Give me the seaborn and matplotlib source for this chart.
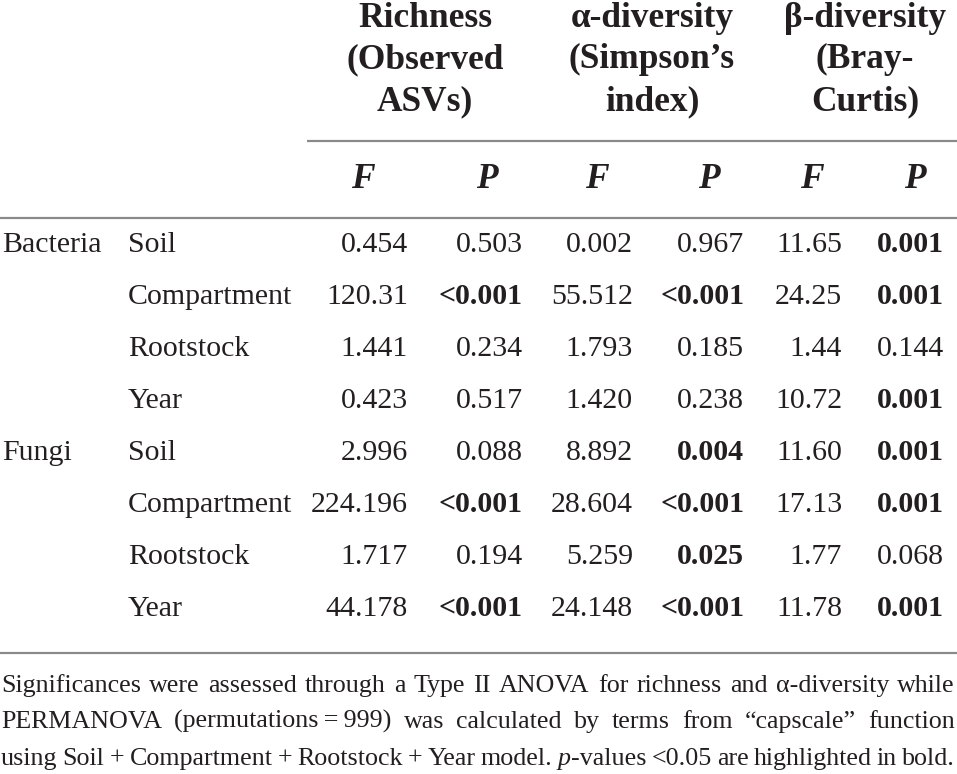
import matplotlib
matplotlib.use("Agg")
import matplotlib.pyplot as plt
import seaborn as sns

# table content
groups = ["Bacteria", "", "", "", "Fungi", "", "", ""]
terms = ["Soil", "Compartment", "Rootstock", "Year",
         "Soil", "Compartment", "Rootstock", "Year"]
richness_f = ["0.454", "120.31", "1.441", "0.423", "2.996", "224.196", "1.717", "44.178"]
richness_p = ["0.503", "<0.001", "0.234", "0.517", "0.088", "<0.001", "0.194", "<0.001"]
alpha_f = ["0.002", "55.512", "1.793", "1.420", "8.892", "28.604", "5.259", "24.148"]
alpha_p = ["0.967", "<0.001", "0.185", "0.238", "0.004", "<0.001", "0.025", "<0.001"]
beta_f = ["11.65", "24.25", "1.44", "10.72", "11.60", "17.13", "1.77", "11.78"]
beta_p = ["0.001", "0.001", "0.144", "0.001", "0.001", "0.001", "0.068", "0.001"]

header_groups = [["Richness", "(Observed", "ASVs)"],
                 ["α-diversity", "(Simpson’s", "index)"],
                 ["β-diversity", "(Bray-", "Curtis)"]]
stat_labels = ["F", "P"]

footnote_lines = [
    "Significances were assessed through a Type II ANOVA for richness and α-diversity while",
    "PERMANOVA (permutations\u2009=\u2009999) was calculated by terms from “capscale” function",
    "using Soil + Compartment + Rootstock + Year model. p-values <0.05 are highlighted in bold.",
]

TEXT = "#231f20"
RULE = "#8a8a8a"
FAMILY = ["Liberation Serif", "DejaVu Serif"]
BODY_FS = 21.5
HEAD_FS = 25.5


def is_significant(p):
    return p.startswith("<") or float(p) < 0.05


sns.set_theme(style="white")
plt.rcParams["font.family"] = FAMILY

W, H = 957, 774
fig = plt.figure(figsize=(W / 100, H / 100), dpi=100)
ax = fig.add_axes([0, 0, 1, 1])
ax.set_xlim(0, W)
ax.set_ylim(H, 0)
ax.axis("off")

# header block
group_centers = [425, 652, 865]
head_baselines = [27, 68, 110]
for cx, lines in zip(group_centers, header_groups):
    for yb, s in zip(head_baselines, lines):
        ax.text(cx, yb, s, ha="center", va="baseline", fontsize=HEAD_FS,
                fontweight="bold", color=TEXT)

stat_centers = [363, 487, 597, 709, 812, 915]
for i, cx in enumerate(stat_centers):
    ax.text(cx, 188, stat_labels[i % 2], ha="center", va="baseline",
            fontsize=HEAD_FS, fontweight="bold", fontstyle="italic", color=TEXT)

ax.plot([307, W], [141, 141], color=RULE, lw=1.6, solid_capstyle="butt")
ax.plot([0, W], [218, 218], color=RULE, lw=1.6, solid_capstyle="butt")
ax.plot([0, W], [653, 653], color=RULE, lw=1.6, solid_capstyle="butt")

# body rows
row_baselines = [252 + 52 * i for i in range(len(terms))]
value_cols = [(richness_f, 408, False), (richness_p, 523, True),
              (alpha_f, 633, False), (alpha_p, 744, True),
              (beta_f, 842, False), (beta_p, 944, True)]
for r, yb in enumerate(row_baselines):
    if groups[r]:
        ax.text(2, yb, groups[r], ha="left", va="baseline", fontsize=BODY_FS, color=TEXT)
    ax.text(128, yb, terms[r], ha="left", va="baseline", fontsize=BODY_FS, color=TEXT)
    for col, xr, is_p in value_cols:
        val = col[r]
        weight = "bold" if is_p and is_significant(val) else "normal"
        ax.text(xr, yb, val, ha="right", va="baseline", fontsize=BODY_FS,
                fontweight=weight, color=TEXT)

# footnote, justified word by word
renderer = fig.canvas.get_renderer()


def word_segments(word):
    if word.startswith("p-"):
        return [("p", "italic"), (word[1:], "normal")]
    return [(word, "normal")]


def seg_width(s, style, fs):
    t = ax.text(0, 0, s, fontsize=fs, fontstyle=style)
    w = t.get_window_extent(renderer).width
    t.remove()
    return w


left, right = 1, 955
foot_fs = 21
space_w = seg_width("a a", "normal", foot_fs) - seg_width("aa", "normal", foot_fs)
widest = 0
for line in footnote_lines:
    words = line.split(" ")
    total = sum(seg_width(s, st, foot_fs) for w in words for s, st in word_segments(w))
    widest = max(widest, total + 0.8 * space_w * (len(words) - 1))
if widest > right - left:
    foot_fs *= (right - left) / widest

foot_baselines = [692, 728, 765]
for line, yb in zip(footnote_lines, foot_baselines):
    words = line.split(" ")
    segs = [word_segments(w) for w in words]
    widths = [[seg_width(s, st, foot_fs) for s, st in sg] for sg in segs]
    total = sum(sum(w) for w in widths)
    gap = (right - left - total) / (len(words) - 1)
    x = left
    for sg, ws in zip(segs, widths):
        for (s, st), w in zip(sg, ws):
            ax.text(x, yb, s, ha="left", va="baseline", fontsize=foot_fs,
                    fontstyle=st, color=TEXT)
            x += w
        x += gap

fig.savefig("out.png", dpi=100)
